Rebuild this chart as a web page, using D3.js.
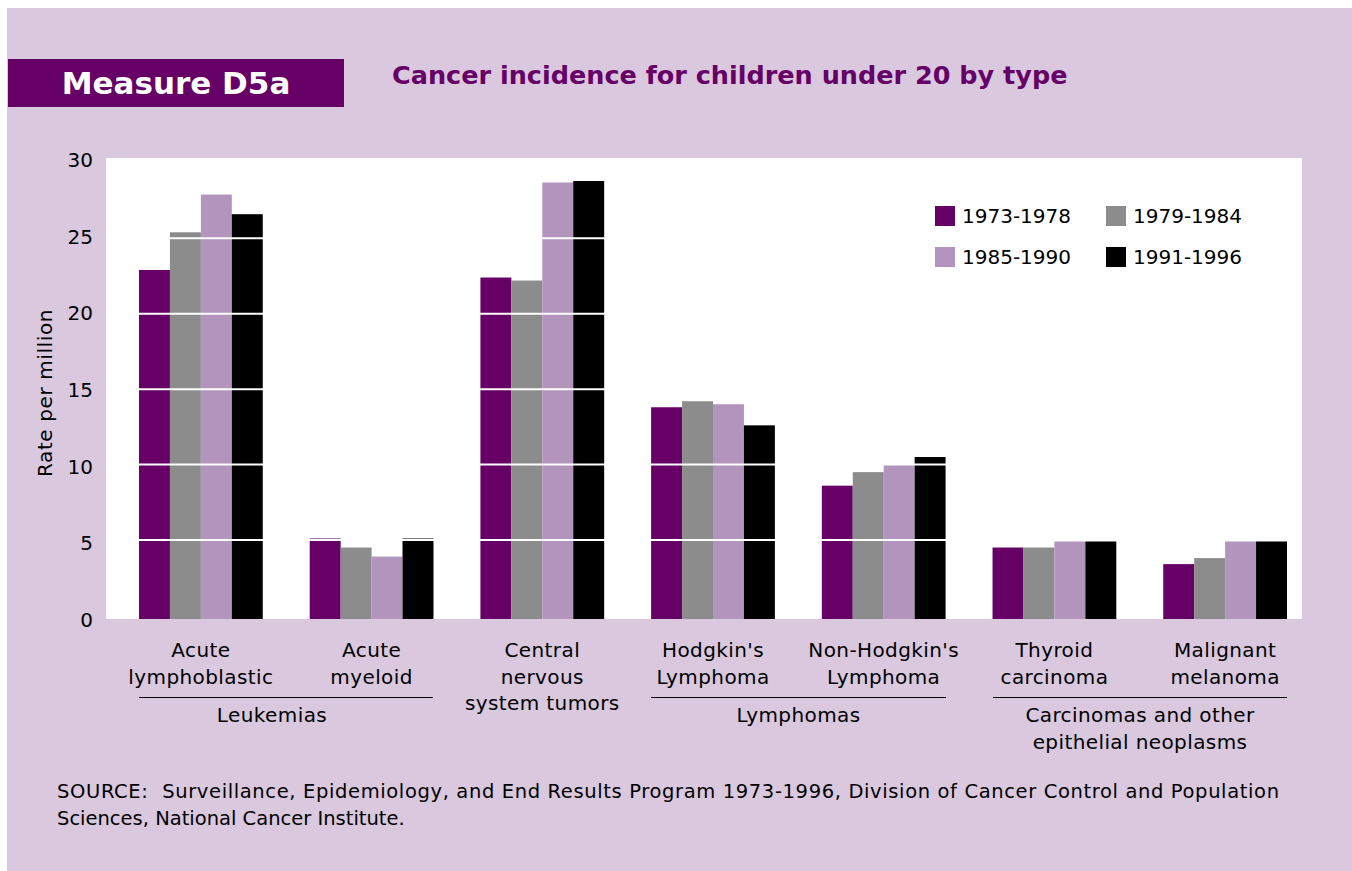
<!DOCTYPE html>
<html>
<head>
<meta charset="utf-8">
<script src="https://cdn.jsdelivr.net/npm/d3@7.9.0/dist/d3.min.js"></script>
<style>
  html, body { margin: 0; padding: 0; background: #fff; }
  svg { display: block; font-family: "DejaVu Sans", sans-serif; }
</style>
</head>
<body>
<svg id="chart" width="1352" height="871"></svg>
<script>
// data
const categories = ["Acute lymphoblastic", "Acute myeloid", "Central nervous system tumors",
  "Hodgkin's Lymphoma", "Non-Hodgkin's Lymphoma", "Thyroid carcinoma", "Malignant melanoma"];
const categoryLines = [["Acute", "lymphoblastic"], ["Acute", "myeloid"], ["Central", "nervous", "system tumors"],
  ["Hodgkin's", "Lymphoma"], ["Non-Hodgkin's", "Lymphoma"], ["Thyroid", "carcinoma"], ["Malignant", "melanoma"]];
const periods = ["1973-1978", "1979-1984", "1985-1990", "1991-1996"];
const rates1973 = [22.9, 5.1, 22.4, 13.8, 8.6, 4.5, 3.4];
const rates1979 = [25.4, 4.5, 22.2, 14.2, 9.5, 4.5, 3.8];
const rates1985 = [27.9, 3.9, 28.7, 14.0, 10.0, 4.9, 4.9];
const rates1991 = [26.6, 5.1, 28.8, 12.6, 10.5, 4.9, 4.9];
const yTicks = [0, 5, 10, 15, 20, 25, 30];
const groupNames = [["Leukemias"], ["Lymphomas"], ["Carcinomas and other", "epithelial neoplasms"]];
const groupSpans = [[0, 1], [3, 4], [5, 6]];

const series = [rates1973, rates1979, rates1985, rates1991];
const colors = ["#660066", "#8c8c8c", "#b294bd", "#000000"];
const bg = "#d9c8de";

const svg = d3.select("#chart");

// background panel
svg.append("rect").attr("x", 7).attr("y", 8).attr("width", 1345).attr("height", 863).attr("fill", bg);

// header
svg.append("rect").attr("x", 8).attr("y", 59).attr("width", 336).attr("height", 48).attr("fill", "#660066");
svg.append("text").attr("x", 176).attr("y", 83).attr("text-anchor", "middle")
  .attr("dominant-baseline", "central").attr("fill", "#fff")
  .style("font-size", "31px").style("font-weight", "bold").text("Measure D5a");
svg.append("text").attr("x", 392).attr("y", 75).attr("dominant-baseline", "central")
  .attr("fill", "#660066").style("font-size", "25.5px").style("font-weight", "bold")
  .text("Cancer incidence for children under 20 by type");

// plot area
const plot = { left: 106, right: 1302, top: 158, bottom: 619 };
svg.append("rect").attr("x", plot.left).attr("y", plot.top)
  .attr("width", plot.right - plot.left).attr("height", plot.bottom - plot.top).attr("fill", "#fff");

const y = d3.scaleLinear().domain([0, 30]).range([615.4, 162.9]);
// tick labels sit on a slightly taller scale than the grid
const yLabel = d3.scaleLinear().domain([0, 30]).range([620, 160]);
const x = d3.scaleBand().domain(categories).range([139, 1287]).paddingInner(0.275).paddingOuter(0);
const xs = d3.scaleBand().domain(periods).range([0, x.bandwidth()]);

const g = svg.append("g");
periods.forEach((p, si) => {
  g.selectAll(null)
    .data(series[si])
    .join("rect")
    .attr("x", (d, i) => x(categories[i]) + xs(p))
    .attr("y", d => y(d))
    .attr("width", xs.bandwidth())
    .attr("height", d => plot.bottom - y(d))
    .attr("fill", colors[si]);
});

// white grid lines (only visible over the bars)
svg.append("g").selectAll("line")
  .data(yTicks.filter(t => t > 0 && t < 30))
  .join("line")
  .attr("x1", plot.left).attr("x2", plot.right)
  .attr("y1", d => y(d)).attr("y2", d => y(d))
  .attr("stroke", "#fff").attr("stroke-width", 2);

// y tick labels
svg.append("g").selectAll("text")
  .data(yTicks)
  .join("text")
  .attr("x", 93).attr("y", d => yLabel(d))
  .attr("text-anchor", "end").attr("dominant-baseline", "central")
  .style("font-size", "20px").attr("fill", "#000")
  .text(d => d);

svg.append("text")
  .attr("transform", "translate(45,393) rotate(-90)")
  .attr("text-anchor", "middle").attr("dominant-baseline", "central")
  .style("font-size", "20px").style("letter-spacing", "0.6px").text("Rate per million");

// category labels
const catG = svg.append("g").style("font-size", "20px").style("letter-spacing", "0.4px")
  .attr("text-anchor", "middle");
categories.forEach((c, i) => {
  const t = catG.append("text").attr("x", x(c) + x.bandwidth() / 2).attr("y", 657);
  categoryLines[i].forEach((ln, k) => {
    t.append("tspan").attr("x", x(c) + x.bandwidth() / 2).attr("dy", k === 0 ? 0 : 26.5).text(ln);
  });
});

// group brackets
groupSpans.forEach(([a, b], gi) => {
  const x1 = Math.round(x(categories[a]));
  const x2 = Math.round(x(categories[b]) + x.bandwidth());
  svg.append("line").attr("x1", x1).attr("x2", x2).attr("y1", 697.5).attr("y2", 697.5)
    .attr("stroke", "#000").attr("stroke-width", 1);
  const t = svg.append("text").attr("text-anchor", "middle").style("font-size", "20px")
    .style("letter-spacing", "0.4px").attr("y", 722);
  groupNames[gi].forEach((ln, k) => {
    t.append("tspan").attr("x", (x1 + x2) / 2 - (gi === 0 ? 14 : 0)).attr("dy", k === 0 ? 0 : 27).text(ln);
  });
});

// legend
const legend = svg.append("g");
periods.forEach((p, i) => {
  const lx = i % 2 === 0 ? 935 : 1106;
  const ly = i < 2 ? 206 : 247;
  legend.append("rect").attr("x", lx).attr("y", ly).attr("width", 20).attr("height", 20).attr("fill", colors[i]);
  legend.append("text").attr("x", lx + 27).attr("y", ly + 10).attr("dominant-baseline", "central")
    .style("font-size", "20px").text(p);
});

// source
const src = svg.append("text").style("font-size", "19.5px").attr("y", 798).attr("xml:space", "preserve")
  .style("white-space", "pre");
src.append("tspan").attr("x", 57).attr("textLength", 1222).attr("lengthAdjust", "spacing")
  .text("SOURCE:  Surveillance, Epidemiology, and End Results Program 1973-1996, Division of Cancer Control and Population");
src.append("tspan").attr("x", 57).attr("dy", 27).text("Sciences, National Cancer Institute.");
</script>
</body>
</html>
